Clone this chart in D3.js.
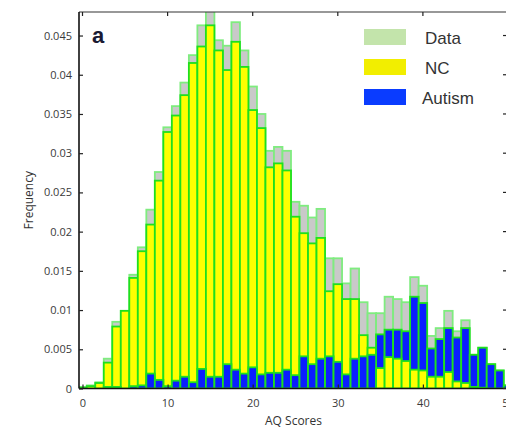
<!DOCTYPE html>
<html><head><meta charset="utf-8">
<script src="https://cdn.jsdelivr.net/npm/d3@7"></script>
<style>html,body{margin:0;padding:0;background:#fff;overflow:hidden}</style>
</head><body>
<svg id="chart" width="506" height="429"></svg>
<script>
const bins = d3.range(0, 51);
const dataFreq = [0.0002,0.0004,0.0008,0.0038,0.0085,0.0099,0.0145,0.0180,0.0228,0.0276,
  0.0333,0.0360,0.0390,0.0425,0.0463,0.0490,0.0444,0.0437,0.0467,0.0431,
  0.0385,0.0350,0.0303,0.0308,0.0303,0.0238,0.0233,0.0218,0.0229,0.0166,
  0.0166,0.0134,0.0153,0.0110,0.0096,0.0096,0.0117,0.0114,0.0110,0.0142,
  0.0131,0.0067,0.0077,0.0099,0.0073,0.0087,0.0043,0.0052,0.0031,0.0023,0.0004];
const ncFreq = [0.0001,0.0003,0.0007,0.0033,0.0079,0.0099,0.0141,0.0175,0.0209,0.0265,
  0.0327,0.0348,0.0374,0.0415,0.0436,0.0463,0.0431,0.0406,0.0442,0.0410,
  0.0355,0.0332,0.0282,0.0287,0.0278,0.0219,0.0198,0.0185,0.0192,0.0124,
  0.0133,0.0114,0.0114,0.0068,0.0052,0.0026,0.0040,0.0038,0.0035,0.0024,
  0.0023,0.0015,0.0015,0.0021,0.0009,0.0007,0.0002,0.0001,0,0,0];
const autismFreq = [0,0,0,0.0002,0.0002,0,0.0003,0.0004,0.0019,0.0011,
  0.0003,0.0010,0.0015,0.0008,0.0025,0.0015,0.0015,0.0031,0.0024,0.0019,
  0.0027,0.0018,0.0020,0.0020,0.0024,0.0017,0.0041,0.0031,0.0038,0.0041,
  0.0034,0.0018,0.0038,0.0041,0.0043,0.0069,0.0075,0.0075,0.0073,0.0117,
  0.0109,0.0051,0.0063,0.0077,0.0065,0.0077,0.0043,0.0052,0.0031,0.0023,0.0004];
const xTicks = [0,10,20,30,40,50];
const yTicks = [0,0.005,0.01,0.015,0.02,0.025,0.03,0.035,0.04,0.045];
const legendItems = ["Data","NC","Autism"];

const fills = {Data:"#c9c9c9", NC:"#ffff00", Autism:"#0a1eff"};
const strokes = {Data:"#7fec7f", NC:"#1ee01e", Autism:"#1ee01e"};
const legendFills = {Data:"#c3e4ab", NC:"#f2ee00", Autism:"#0a3cff"};

const svg = d3.select("#chart");
const pL = 79, pR = 508, pT = 12, pB = 388.5;
const x = d3.scaleLinear().domain([0,50]).range([82.5,508]);
const y = d3.scaleLinear().domain([0,0.048]).range([pB, pT]);
const bw = x(1) - x(0);

svg.append("clipPath").attr("id","clip").append("rect")
  .attr("x",pL).attr("y",pT).attr("width",pR-pL).attr("height",pB-pT);
const g = svg.append("g").attr("clip-path","url(#clip)");

function drawLayer(items){
  g.append("g").selectAll("rect").data(items).join("rect")
    .attr("x", d => x(d.bin - 0.5))
    .attr("width", bw)
    .attr("y", d => y(d.v))
    .attr("height", d => Math.max(0, y(0) - y(d.v)))
    .attr("fill", d => fills[d.s])
    .attr("stroke", d => strokes[d.s])
    .attr("stroke-width", 1.8);
}
drawLayer(bins.map(b => ({bin:b, s:"Data", v:dataFreq[b]})).filter(d=>d.v>0));
const back = bins.map(b => ncFreq[b] >= autismFreq[b] ? {bin:b,s:"NC",v:ncFreq[b]} : {bin:b,s:"Autism",v:autismFreq[b]}).filter(d=>d.v>0);
const front = bins.map(b => ncFreq[b] >= autismFreq[b] ? {bin:b,s:"Autism",v:autismFreq[b]} : {bin:b,s:"NC",v:ncFreq[b]}).filter(d=>d.v>0);
drawLayer(back);
drawLayer(front);

// frame
svg.append("line").attr("x1",pL).attr("x2",pR).attr("y1",pT).attr("y2",pT).attr("stroke","#333").attr("stroke-width",1.2);
svg.append("line").attr("x1",pR).attr("x2",pR).attr("y1",pT).attr("y2",pB).attr("stroke","#333").attr("stroke-width",1.2);

const xAxis = svg.append("g").attr("transform",`translate(0,${pB})`)
  .call(d3.axisBottom(x).tickValues(xTicks).tickSizeInner(-4).tickSizeOuter(0).tickPadding(11));
xAxis.select(".domain").attr("d",`M${pL},0H${pR}`).attr("stroke","#111").attr("stroke-width",1.6);
const yAxis = svg.append("g").attr("transform",`translate(${pL},0)`)
  .call(d3.axisLeft(y).tickValues(yTicks).tickSizeInner(-4).tickSizeOuter(0).tickPadding(7).tickFormat(d=>d===0?"0":String(+d.toFixed(3))));
yAxis.select(".domain").attr("d",`M0,${pT}V${pB}`).attr("stroke","#111").attr("stroke-width",1.6);
[xAxis,yAxis].forEach(a=>{
  a.selectAll(".tick line").attr("stroke","#222").attr("stroke-width",1.2);
  a.selectAll(".tick text").attr("fill","#3a3a3a").attr("font-family","Open Sans, sans-serif").attr("font-size",11);
});
// top and right ticks
svg.append("g").selectAll("line").data(xTicks).join("line")
  .attr("x1",d=>x(d)).attr("x2",d=>x(d)).attr("y1",pT).attr("y2",pT+4).attr("stroke","#222").attr("stroke-width",1.2);
svg.append("g").selectAll("line").data(yTicks).join("line")
  .attr("x1",pR-5).attr("x2",pR).attr("y1",d=>y(d)).attr("y2",d=>y(d)).attr("stroke","#222").attr("stroke-width",1.2);

// axis labels
svg.append("text").attr("x",(pL+pR)/2).attr("y",425).attr("text-anchor","middle")
  .attr("font-family","Open Sans, sans-serif").attr("font-size",12).attr("fill","#333").text("AQ Scores");
svg.append("text").attr("transform",`translate(33,${(pT+pB)/2}) rotate(-90)`).attr("text-anchor","middle")
  .attr("font-family","Open Sans, sans-serif").attr("font-size",12).attr("fill","#333").text("Frequency");

// panel label
svg.append("text").attr("x",92).attr("y",43).attr("font-family","Liberation Sans, Arial, sans-serif")
  .attr("font-weight","bold").attr("font-size",22).attr("fill","#1a1a33").text("a");

// legend
const lg = svg.append("g");
legendItems.forEach((k,i)=>{
  const yy = 29 + i*30;
  lg.append("rect").attr("x",364).attr("y",yy).attr("width",42).attr("height",16).attr("fill",legendFills[k]);
  lg.append("text").attr("x",k==="Autism"?422:425).attr("y",yy+14.5).attr("font-family","Liberation Sans, Arial, sans-serif")
    .attr("font-size",17).attr("fill","#333").text(k);
});
</script>
</body></html>
